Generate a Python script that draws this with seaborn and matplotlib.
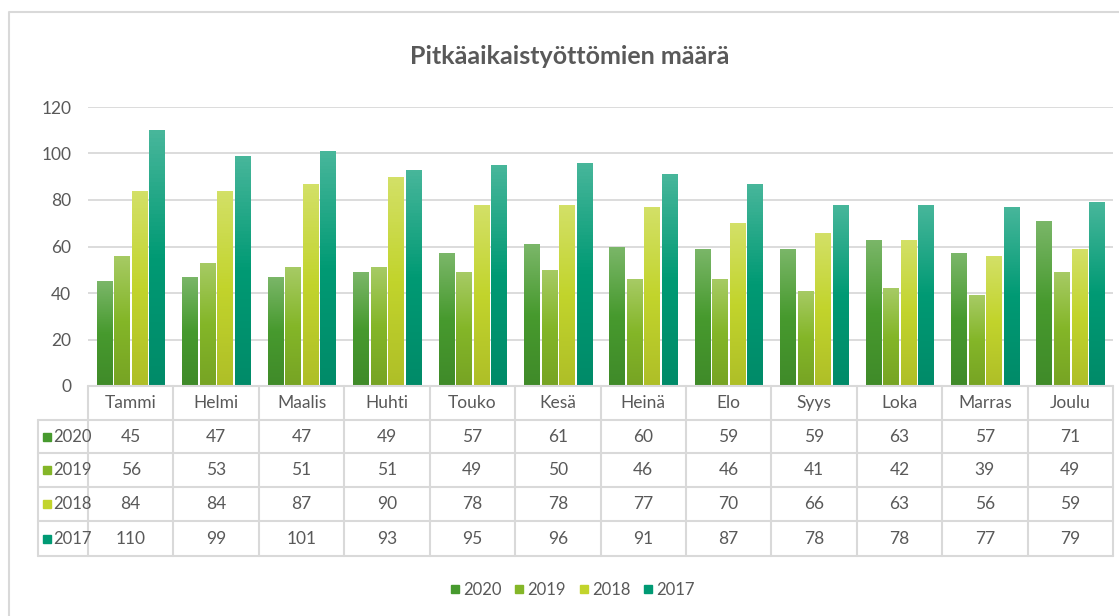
import numpy as np
import pandas as pd
import seaborn as sns
import matplotlib.pyplot as plt
import matplotlib.transforms as mtransforms
from matplotlib.lines import Line2D
from matplotlib.colors import to_rgb

# data
months = ['Tammi', 'Helmi', 'Maalis', 'Huhti', 'Touko', 'Kesä',
          'Heinä', 'Elo', 'Syys', 'Loka', 'Marras', 'Joulu']
years = ['2020', '2019', '2018', '2017']
v2020 = [45, 47, 47, 49, 57, 61, 60, 59, 59, 63, 57, 71]
v2019 = [56, 53, 51, 51, 49, 50, 46, 46, 41, 42, 39, 49]
v2018 = [84, 84, 87, 90, 78, 78, 77, 70, 66, 63, 56, 59]
v2017 = [110, 99, 101, 93, 95, 96, 91, 87, 78, 78, 77, 79]
colors = ['#479a2e', '#84b628', '#c2d42c', '#009a74']

series = {'2020': v2020, '2019': v2019, '2018': v2018, '2017': v2017}
df = pd.DataFrame([(m, y, series[y][i]) for y in years for i, m in enumerate(months)],
                  columns=['Kuukausi', 'Vuosi', 'Määrä'])

sns.set_theme(style='white')
plt.rcParams['font.family'] = ['Lato', 'DejaVu Sans']
grey = '#595959'
line_c = '#d9d9d9'

W, H = 1119, 616
fig = plt.figure(figsize=(W / 100, H / 100), dpi=100)
ax_l, ax_r, ax_t, ax_b = 88, 1113, 107, 386
ax = fig.add_axes([ax_l / W, 1 - ax_b / H, (ax_r - ax_l) / W, (ax_b - ax_t) / H])

sns.barplot(data=df, x='Kuukausi', y='Määrä', hue='Vuosi', hue_order=years,
            palette=colors, width=0.82, gap=0.14, legend=False, ax=ax,
            saturation=1, edgecolor='none')

# vertical gradient on bars (lighter top, like the Excel style)
for cont, c in zip(ax.containers, colors):
    base = np.array(to_rgb(c))
    top = base + (1 - base) * 0.28
    bot = base * 0.9
    t = np.linspace(0, 1, 64)[:, None]
    grad = np.where(t < 0.5, top + (base - top) * (t / 0.5),
                    base + (bot - base) * ((t - 0.5) / 0.5))
    img = grad[:, None, :]
    for p in cont.patches:
        x0, y0 = p.get_x(), p.get_y()
        w, h = p.get_width(), p.get_height()
        im = ax.imshow(img, extent=(x0, x0 + w, y0, y0 + h), aspect='auto',
                       origin='upper', zorder=p.get_zorder() + 0.1)
        im.set_clip_path(p)

ax.set_xlim(-0.5, len(months) - 0.5)
ax.set_ylim(0, 120)
ax.set_yticks(range(0, 121, 20))
ax.set_xticks([])
ax.set_xlabel('')
ax.set_ylabel('')
ax.grid(axis='y', color=line_c, lw=1.3)
ax.set_axisbelow(True)
for s in ax.spines.values():
    s.set_visible(False)
ax.tick_params(axis='y', length=0, pad=12, labelsize=12.5, labelcolor=grey)

# data table under the axis
trans = mtransforms.blended_transform_factory(ax.transData, fig.transFigure)
fy = lambda py: 1 - py / H
fx = lambda px: px / W
row_edges = [386, 420, 453, 487, 521, 556]
tbl_left = 38

def fline(xs, ys, tr=fig.transFigure):
    fig.add_artist(Line2D(xs, ys, color=line_c, lw=1.5, transform=tr))

# horizontal lines
fline([fx(ax_l), fx(ax_r)], [fy(386), fy(386)])
for r in row_edges[1:]:
    fline([fx(tbl_left), fx(ax_r)], [fy(r), fy(r)])
# vertical lines
fline([fx(tbl_left), fx(tbl_left)], [fy(row_edges[1]), fy(row_edges[-1])])
for i in range(len(months) + 1):
    fline([i - 0.5, i - 0.5], [fy(386), fy(row_edges[-1])], trans)

for i, m in enumerate(months):
    fig.text(i, fy((row_edges[0] + row_edges[1]) / 2), m, transform=trans,
             ha='center', va='center', fontsize=12.5, color=grey)
for r, y in enumerate(years):
    yc = fy((row_edges[r + 1] + row_edges[r + 2]) / 2)
    for i, v in enumerate(series[y]):
        fig.text(i, yc, str(v), transform=trans, ha='center', va='center',
                 fontsize=12.5, color=grey)
    fig.add_artist(Line2D([fx(47)], [yc], marker='s', ms=6, color=colors[r],
                          lw=0, transform=fig.transFigure))
    fig.text(fx(53), yc, y, ha='left', va='center', fontsize=12, color=grey)

# title
fig.text(fx(570), fy(57), 'Pitkäaikaistyöttömien määrä', ha='center', va='center',
         fontsize=18, fontweight='bold', color=grey)

# legend
handles = [Line2D([], [], marker='s', ms=6, color=c, lw=0) for c in colors]
fig.legend(handles, years, loc='center', bbox_to_anchor=(fx(572), fy(590)),
           ncol=4, frameon=False, fontsize=12, labelcolor=grey,
           handlelength=0.7, handletextpad=0.15, columnspacing=0.7)

# chart area border (left and top visible)
fig.add_artist(Line2D([fx(9), fx(9), 1.0], [0.0, fy(12), fy(12)], color=line_c,
                      lw=1.5, transform=fig.transFigure))

fig.savefig('out.png', dpi=100)
